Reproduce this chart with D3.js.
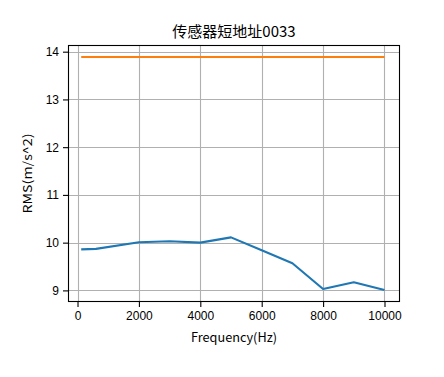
<!DOCTYPE html>
<html>
<head>
<meta charset="utf-8">
<script src="https://cdn.jsdelivr.net/npm/d3@7"></script>
<style>
  html, body { margin: 0; padding: 0; background: #fff; }
  svg { display: block; }
</style>
</head>
<body>
<svg id="chart" width="444" height="377"></svg>
<script>
const titleText = "传感器短地址0033";
const xLabel = "Frequency(Hz)";
const yLabel = "RMS(m/s^2)";
const freqs = [120, 600, 2000, 3000, 4000, 5000, 6000, 7000, 8000, 9000, 10000];
const rmsValues = [9.86, 9.87, 10.01, 10.03, 10.00, 10.11, 9.84, 9.57, 9.03, 9.17, 9.01];
const limitFreqs = [120, 10000];
const limitValues = [13.89, 13.89];
const xTicks = [0, 2000, 4000, 6000, 8000, 10000];
const yTicks = [9, 10, 11, 12, 13, 14];

const svg = d3.select("#chart");
const mLeft = 68, mRight = 400, mTop = 45, mBottom = 302;

const x = d3.scaleLinear().domain([-310, 10505]).range([mLeft, mRight]);
const y = d3.scaleLinear().domain([8.757, 14.14]).range([mBottom, mTop]);

const gridColor = "#b0b0b0";
// grid
svg.append("g").selectAll("line").data(xTicks).join("line")
  .attr("x1", d => Math.round(x(d)) + 0.5).attr("x2", d => Math.round(x(d)) + 0.5)
  .attr("y1", mTop).attr("y2", mBottom)
  .attr("stroke", gridColor).attr("stroke-width", 1.1);
svg.append("g").selectAll("line").data(yTicks).join("line")
  .attr("y1", d => Math.round(y(d)) + 0.5).attr("y2", d => Math.round(y(d)) + 0.5)
  .attr("x1", mLeft).attr("x2", mRight)
  .attr("stroke", gridColor).attr("stroke-width", 1.1);

// lines
const line = d3.line().x(d => x(d[0])).y(d => y(d[1]));
svg.append("path")
  .datum(freqs.map((f, i) => [f, rmsValues[i]]))
  .attr("d", line).attr("fill", "none")
  .attr("stroke", "#1f77b4").attr("stroke-width", 2.1)
  .attr("stroke-linejoin", "round");
svg.append("path")
  .datum(limitFreqs.map((f, i) => [f, limitValues[i]]))
  .attr("d", line).attr("fill", "none")
  .attr("stroke", "#ff7f0e").attr("stroke-width", 2.1);

// axes
const xAxis = d3.axisBottom(x).tickValues(xTicks).tickSize(5).tickPadding(4).tickFormat(d3.format("d"));
const yAxis = d3.axisLeft(y).tickValues(yTicks).tickSize(5).tickPadding(4).tickFormat(d3.format("d"));
const gx = svg.append("g").attr("transform", `translate(0,${mBottom})`).call(xAxis);
const gy = svg.append("g").attr("transform", `translate(${mLeft},0)`).call(yAxis);
[gx, gy].forEach(g => {
  g.select(".domain").remove();
  g.selectAll(".tick line").attr("stroke", "#000").attr("stroke-width", 1.1);
  g.selectAll(".tick text").attr("fill", "#000")
    .style("font-family", "'Liberation Sans', Arial, sans-serif").style("font-size", "12px");
});

// frame
svg.append("rect").attr("x", mLeft + 0.5).attr("y", mTop + 0.5)
  .attr("width", mRight - mLeft - 1).attr("height", mBottom - mTop - 1)
  .attr("fill", "none").attr("stroke", "#000").attr("stroke-width", 1.1);

// title & labels
svg.append("text").attr("x", (mLeft + mRight) / 2).attr("y", 37)
  .attr("text-anchor", "middle")
  .style("font-family", "'Noto Sans CJK SC', sans-serif").style("font-size", "15px")
  .text(titleText);
svg.append("text").attr("x", (mLeft + mRight) / 2).attr("y", 342)
  .attr("text-anchor", "middle")
  .attr("textLength", 86).attr("lengthAdjust", "spacingAndGlyphs")
  .style("font-family", "'Noto Sans CJK SC', sans-serif").style("font-size", "12.5px")
  .text(xLabel);
svg.append("text")
  .attr("transform", `translate(32,${(mTop + mBottom) / 2}) rotate(-90)`)
  .attr("text-anchor", "middle")
  .attr("textLength", 80).attr("lengthAdjust", "spacingAndGlyphs")
  .style("font-family", "'Noto Sans CJK SC', sans-serif").style("font-size", "12px")
  .text(yLabel);
</script>
</body>
</html>
